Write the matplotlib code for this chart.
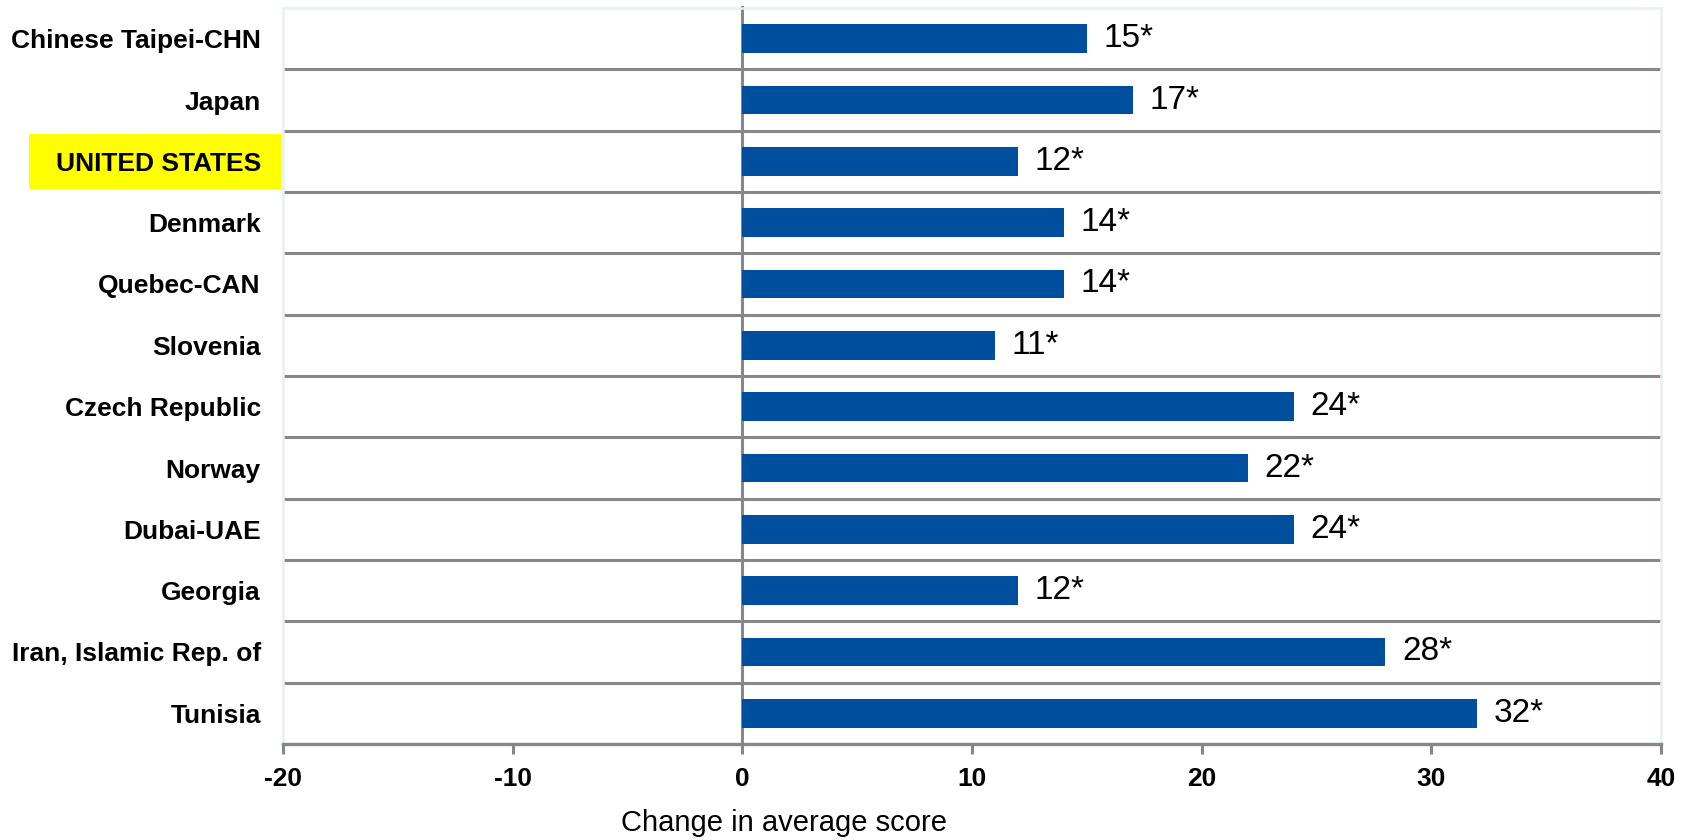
import matplotlib.pyplot as plt
from matplotlib.patches import Rectangle
from matplotlib.transforms import blended_transform_factory

plt.rcParams['font.family'] = ['Liberation Sans', 'DejaVu Sans']

# countries top to bottom and their score change
countries = [
    "Chinese Taipei-CHN", "Japan", "UNITED STATES", "Denmark", "Quebec-CAN",
    "Slovenia", "Czech Republic", "Norway", "Dubai-UAE", "Georgia",
    "Iran, Islamic Rep. of", "Tunisia",
]
changes = [15, 17, 12, 14, 14, 11, 24, 22, 24, 12, 28, 32]
highlight = "UNITED STATES"
x_ticks = [-20, -10, 0, 10, 20, 30, 40]

bar_color = "#004f9f"
line_gray = "#878787"
frame_green = "#e3f3e8"

fig = plt.figure(figsize=(16.9, 8.4), dpi=100)
ax = fig.add_axes([283 / 1690, 1 - 744 / 840, 1378 / 1690, 736 / 840])

ypos = list(range(len(countries)))
ax.barh(ypos, changes, height=0.47, color=bar_color, zorder=3)

# value labels with asterisk
for y, v in zip(ypos, changes):
    ax.annotate(f"{v}*", (v, y), xytext=(12, 0), textcoords="offset points",
                ha="left", va="center", fontsize=24, zorder=4)

ax.set_xlim(-20, 40)
ax.set_ylim(len(countries) - 0.5, -0.5)

# row separators and zero line
for b in range(len(countries) - 1):
    ax.axhline(b + 0.5, color=line_gray, lw=2.2, zorder=1)
ax.plot([0, 0], [len(countries) - 0.5, -0.52], color=line_gray, lw=2.2,
        zorder=2, clip_on=False)

for side in ["top", "left", "right"]:
    ax.spines[side].set_color(frame_green)
    ax.spines[side].set_linewidth(1.8)
ax.spines["bottom"].set_color(line_gray)
ax.spines["bottom"].set_linewidth(2.4)

ax.set_xticks(x_ticks)
ax.set_xticklabels([str(t) for t in x_ticks], fontsize=19, fontweight="bold")
ax.tick_params(axis="x", direction="out", length=7.5, width=2.2, color=line_gray, pad=9)

ax.set_yticks(ypos)
ax.set_yticklabels(countries, fontsize=19, fontweight="bold")
ax.tick_params(axis="y", length=0, pad=16)

ax.set_xlabel("Change in average score", fontsize=21, va="center")
ax.xaxis.set_label_coords(0.3636, -0.107)

# yellow highlight behind the US label
hi = countries.index(highlight)
trans = blended_transform_factory(fig.transFigure, ax.transData)
ax.add_patch(Rectangle((29 / 1690, hi - 0.45), 252 / 1690, 0.9,
                       transform=trans, facecolor="#ffff00",
                       edgecolor="none", zorder=0, clip_on=False))

fig.savefig("out.png", dpi=100)
